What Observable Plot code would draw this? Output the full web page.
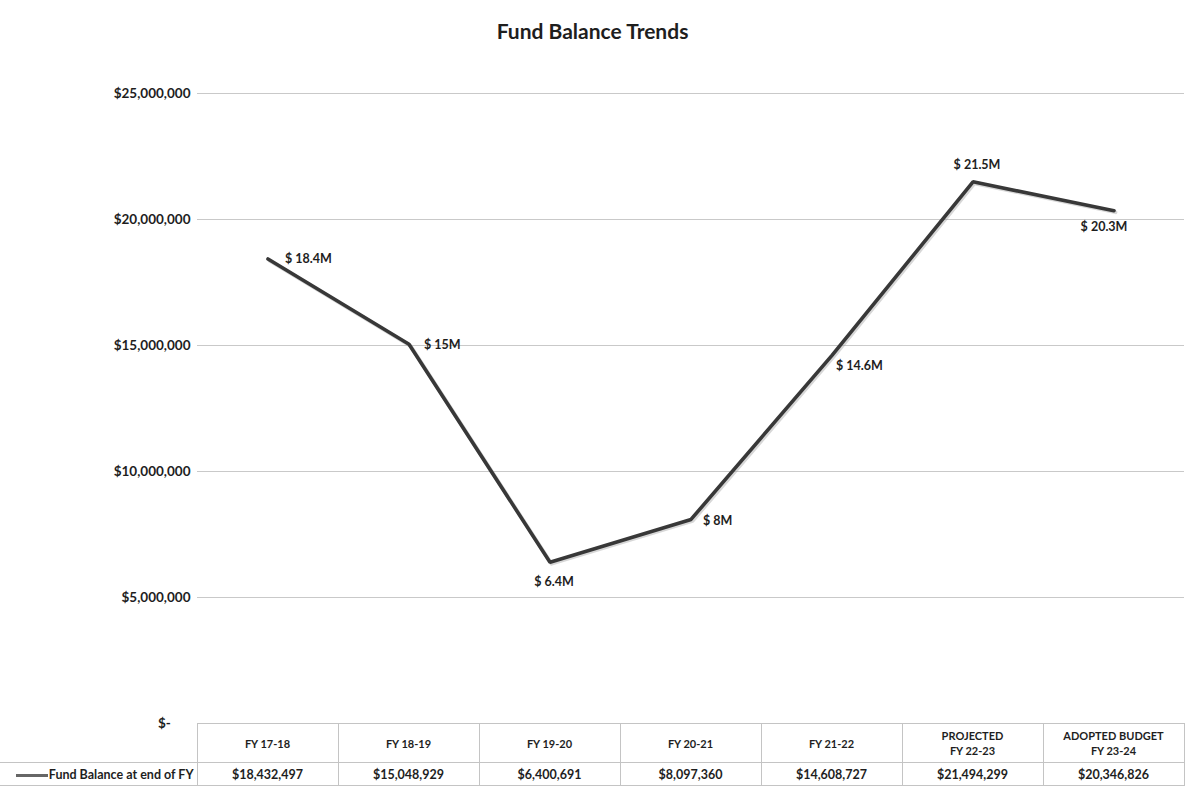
<!DOCTYPE html>
<html>
<head>
<meta charset="utf-8">
<script src="https://cdn.jsdelivr.net/npm/d3@7"></script>
<script src="https://cdn.jsdelivr.net/npm/@observablehq/plot@0.6"></script>
<style>
  html, body { margin: 0; padding: 0; background: #fff; }
  #wrap { position: relative; width: 1185px; height: 786px; overflow: hidden; font-family: Lato, "Open Sans", sans-serif; color: #1e1e1e; }
  #title { position: absolute; top: 18px; left: 0; width: 1185px; text-align: center; font-weight: bold; font-size: 21px; }
  #chart { position: absolute; top: 0; left: 0; }
  #tbl { position: absolute; top: 723px; left: 0; border-collapse: collapse; table-layout: fixed; font-weight: bold; }
  #tbl td { border: 1px solid #c4c4c4; text-align: center; padding: 0; }
  #tbl tr.head td { height: 38px; font-size: 11px; line-height: 15px; }
  #tbl tr.vals td { height: 22px; font-size: 12.5px; }
  #tbl td.blank { border: none; }
  #tbl td.legend { text-align: right; padding-right: 3px; font-size: 12.5px; white-space: nowrap; border-left: none; }
  .swatch { display: inline-block; width: 32px; height: 3px; background: #666; vertical-align: middle; margin-right: 1px; }
</style>
</head>
<body>
<div id="wrap">
  <div id="chart"></div>
  <div id="title">Fund Balance Trends</div>
</div>
<script>
// ---- data ----
const categoryKeys = ["FY 17-18", "FY 18-19", "FY 19-20", "FY 20-21", "FY 21-22", "FY 22-23", "FY 23-24"];
const categoryLabels = ["FY 17-18", "FY 18-19", "FY 19-20", "FY 20-21", "FY 21-22", "PROJECTED|FY 22-23", "ADOPTED BUDGET|FY 23-24"];
const fundBalance = [18432497, 15048929, 6400691, 8097360, 14608727, 21494299, 20346826];
const pointLabels = ["$ 18.4M", "$ 15M", "$ 6.4M", "$ 8M", "$ 14.6M", "$ 21.5M", "$ 20.3M"];
const yTicks = [0, 5000000, 10000000, 15000000, 20000000, 25000000];
const seriesName = "Fund Balance at end of FY";

// ---- label placement (style) ----
const labelOffsets = [
  {dx: 17, dy: 0, anchor: "start"},
  {dx: 15, dy: 1, anchor: "start"},
  {dx: 4, dy: 20, anchor: "middle"},
  {dx: 12, dy: 2, anchor: "start"},
  {dx: 4, dy: 11, anchor: "start"},
  {dx: 4, dy: -17, anchor: "middle"},
  {dx: -10, dy: 16, anchor: "middle"}
];

const data = categoryKeys.map((k, i) => ({cat: k, value: fundBalance[i], label: pointLabels[i]}));

const fmt = d => d === 0 ? "$-\u00a0\u00a0\u00a0\u00a0\u00a0\u00a0" : "$" + d3.format(",")(d);

const labelMarks = data.map((d, i) => Plot.text([d], {
  x: "cat", y: "value", text: "label",
  dx: labelOffsets[i].dx, dy: labelOffsets[i].dy,
  textAnchor: labelOffsets[i].anchor,
  fontWeight: "bold", fontSize: 12.5, fill: "#1e1e1e"
}));

const chart = Plot.plot({
  width: 1185,
  height: 786,
  marginTop: 93,
  marginBottom: 63,
  marginLeft: 197,
  marginRight: 1,
  style: {fontFamily: "Lato, 'Open Sans', sans-serif", fontSize: "12px", fontWeight: "bold", color: "#1e1e1e", background: "transparent"},
  x: {type: "band", domain: categoryKeys, padding: 0, axis: null},
  y: {domain: [0, 25000000], axis: null},
  marks: [
    Plot.gridY(yTicks.filter(t => t > 0), {stroke: "#c9c9c9", strokeOpacity: 1, strokeWidth: 1}),
    Plot.axisY(yTicks, {tickSize: 0, tickPadding: 7, tickFormat: fmt, label: null, fontWeight: "bold", fontSize: 13.5, fill: "#1e1e1e"}),
    Plot.line(data, {x: "cat", y: "value", stroke: "#9a9a9a", strokeWidth: 3.8, strokeOpacity: 0.4, dx: 1.5, dy: 1.5}),
    Plot.line(data, {x: "cat", y: "value", stroke: "#383838", strokeWidth: 3.6, strokeLinejoin: "miter"}),
    ...labelMarks
  ]
});
document.getElementById("chart").appendChild(chart);

// ---- data table below the chart ----
const tbl = document.createElement("table");
tbl.id = "tbl";
const colgroup = document.createElement("colgroup");
const c0 = document.createElement("col"); c0.style.width = "197px"; colgroup.appendChild(c0);
categoryKeys.forEach(() => { const c = document.createElement("col"); c.style.width = "141px"; colgroup.appendChild(c); });
tbl.appendChild(colgroup);
tbl.style.width = (197 + 141 * categoryKeys.length) + "px";

const trH = document.createElement("tr"); trH.className = "head";
const blank = document.createElement("td"); blank.className = "blank"; trH.appendChild(blank);
categoryLabels.forEach(l => {
  const td = document.createElement("td");
  td.innerHTML = l.split("|").join("<br>");
  trH.appendChild(td);
});
tbl.appendChild(trH);

const trV = document.createElement("tr"); trV.className = "vals";
const leg = document.createElement("td"); leg.className = "legend";
leg.innerHTML = '<span class="swatch"></span>' + seriesName;
trV.appendChild(leg);
fundBalance.forEach(v => {
  const td = document.createElement("td");
  td.textContent = "$" + d3.format(",")(v);
  trV.appendChild(td);
});
tbl.appendChild(trV);
document.getElementById("wrap").appendChild(tbl);
</script>
</body>
</html>
